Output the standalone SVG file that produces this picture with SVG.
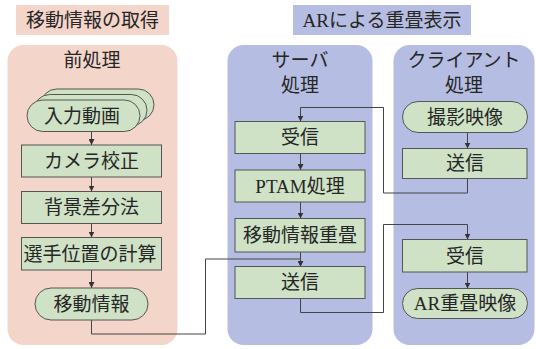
<svg xmlns="http://www.w3.org/2000/svg" width="536" height="349" viewBox="0 0 536 349">
<defs>
<style>
text{font-family:'Liberation Serif','Noto Sans CJK JP',serif;font-size:19px;fill:#262626;text-anchor:middle}
.pink{fill:#f4d5ca}
.lav{fill:#b6bde3}
.box{fill:#cfe2c6;stroke:#555;stroke-width:1}
.ln{fill:none;stroke:#444;stroke-width:1}
</style>
<marker id="ah" viewBox="0 0 6 6" refX="6" refY="3" markerWidth="6" markerHeight="6" markerUnits="userSpaceOnUse" orient="auto">
<path d="M0,0 L6,3 L0,6 Z" fill="#333"/>
</marker>
</defs>

<g id="title-left">
<rect class="pink" x="16" y="5" width="153" height="30"/>
<text x="92.5" y="27">移動情報の取得</text>
</g>
<g id="title-right">
<rect class="lav" x="293" y="5" width="178" height="30"/>
<text x="382" y="27">ARによる重畳表示</text>
</g>

<g id="panel-pre">
<rect class="pink" x="7.5" y="45" width="170" height="300" rx="16"/>
<text x="92" y="67">前処理</text>
</g>
<g id="panel-server">
<rect class="lav" x="227.5" y="45" width="145" height="300" rx="16"/>
<text x="300" y="67">サーバ</text>
<text x="300" y="92">処理</text>
</g>
<g id="panel-client">
<rect class="lav" x="393.5" y="45" width="141" height="300" rx="16"/>
<text x="464" y="67">クライアント</text>
<text x="464" y="92">処理</text>
</g>

<g id="connectors">
<line class="ln" x1="91.5" y1="131.5" x2="91.5" y2="145" marker-end="url(#ah)"/>
<line class="ln" x1="91.5" y1="177" x2="91.5" y2="191.5" marker-end="url(#ah)"/>
<line class="ln" x1="91.5" y1="223.5" x2="91.5" y2="237.5" marker-end="url(#ah)"/>
<line class="ln" x1="91.5" y1="270" x2="91.5" y2="288" marker-end="url(#ah)"/>
<polyline class="ln" points="91.5,320 91.5,334 205.5,334 205.5,259 300.5,259 300.5,266.5" marker-end="url(#ah)"/>
<line class="ln" x1="300.5" y1="153.5" x2="300.5" y2="170" marker-end="url(#ah)"/>
<line class="ln" x1="300.5" y1="202" x2="300.5" y2="218.5" marker-end="url(#ah)"/>
<line class="ln" x1="300.5" y1="252" x2="300.5" y2="266.5" marker-end="url(#ah)"/>
<polyline class="ln" points="467.5,178.5 467.5,193 383.5,193 383.5,107.5 300.5,107.5 300.5,121.5" marker-end="url(#ah)"/>
<polyline class="ln" points="300.5,298.5 300.5,312.5 383.5,312.5 383.5,224.5 467.5,224.5 467.5,239.5" marker-end="url(#ah)"/>
<line class="ln" x1="467.5" y1="132.5" x2="467.5" y2="148.5" marker-end="url(#ah)"/>
<line class="ln" x1="467.5" y1="272" x2="467.5" y2="288.5" marker-end="url(#ah)"/>
</g>

<g id="input-video">
<rect class="box" x="41" y="89" width="113" height="31.5" rx="15.75"/>
<rect class="box" x="34" y="94.5" width="113" height="31.5" rx="15.75"/>
<rect class="box" x="27" y="100" width="113" height="31.5" rx="15.75"/>
<text x="82" y="122.5">入力動画</text>
</g>
<g id="camera-calib">
<rect class="box" x="21.5" y="145" width="140" height="32"/>
<text x="91.5" y="167.5">カメラ校正</text>
</g>
<g id="bg-sub">
<rect class="box" x="21.5" y="191.5" width="140" height="32"/>
<text x="91.5" y="214">背景差分法</text>
</g>
<g id="player-pos">
<rect class="box" x="21.5" y="237.5" width="140" height="32.5"/>
<text x="90" y="260.5">選手位置の計算</text>
</g>
<g id="motion-info">
<rect class="box" x="35" y="288" width="113" height="32" rx="16"/>
<text x="91.5" y="310.5">移動情報</text>
</g>

<g id="server-recv">
<rect class="box" x="235" y="121.5" width="130" height="32"/>
<text x="300" y="144">受信</text>
</g>
<g id="server-ptam">
<rect class="box" x="235" y="170" width="130" height="32"/>
<text x="300" y="192.5">PTAM処理</text>
</g>
<g id="server-overlay">
<rect class="box" x="235" y="218.5" width="130" height="33.5"/>
<text x="300" y="242">移動情報重畳</text>
</g>
<g id="server-send">
<rect class="box" x="235" y="266.5" width="130" height="32"/>
<text x="300" y="289">送信</text>
</g>

<g id="client-capture">
<rect class="box" x="402.5" y="101.5" width="125" height="31" rx="15.5"/>
<text x="465" y="123.5">撮影映像</text>
</g>
<g id="client-send">
<rect class="box" x="402.5" y="148.5" width="124.5" height="30"/>
<text x="465" y="170">送信</text>
</g>
<g id="client-recv">
<rect class="box" x="402.5" y="239.5" width="124.5" height="32.5"/>
<text x="465" y="262.5">受信</text>
</g>
<g id="client-ar">
<rect class="box" x="402.5" y="288.5" width="125" height="30" rx="15"/>
<text x="465" y="310">AR重畳映像</text>
</g>
</svg>
